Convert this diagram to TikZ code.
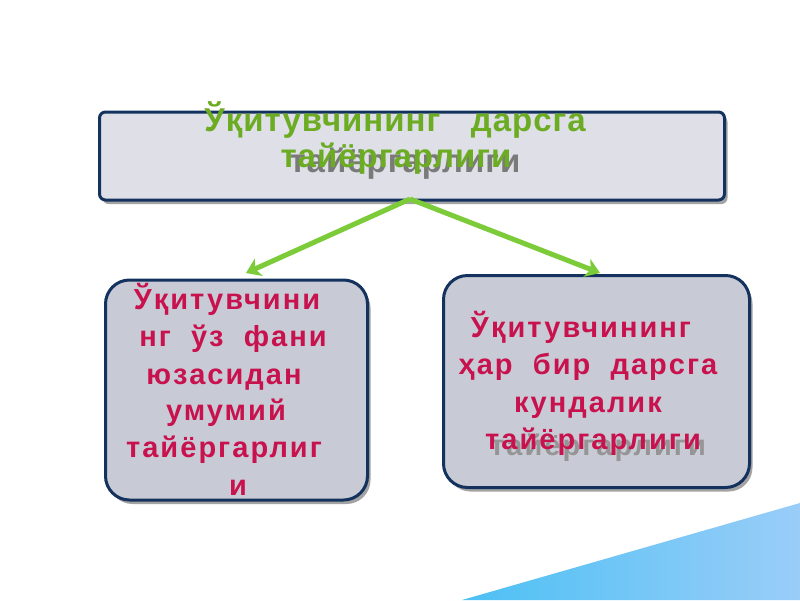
\documentclass[tikz,border=0pt]{standalone}
\usepackage{fontspec}
\setmainfont{Liberation Sans}
\usetikzlibrary{arrows.meta,shadows}
\definecolor{navy}{HTML}{14325E}
\definecolor{topfill}{HTML}{DEDFE7}
\definecolor{boxfill}{HTML}{C8CBD6}
\definecolor{ttlgreen}{HTML}{6CAC22}
\definecolor{arrgreen}{HTML}{7CCB38}
\definecolor{txtred}{HTML}{C8124E}
\definecolor{shgray}{HTML}{7A7A7A}
\definecolor{blueA}{HTML}{4CC0F4}
\definecolor{blueB}{HTML}{9ACDF8}
\newfontfamily\ttlfont[LetterSpace=3]{Liberation Sans}
\newfontfamily\bodyfont[LetterSpace=7]{Liberation Sans}
\tikzset{
  panel/.style={draw=navy, line width=3pt, fill=boxfill, rounded corners=24pt,
    drop shadow={shadow xshift=3pt, shadow yshift=-4pt, fill=black!45, opacity=0.8}},
  ttl/.style={font=\ttlfont\bfseries\fontsize{33}{36}\selectfont, text=ttlgreen, inner sep=0pt, anchor=base},
  ttlsh/.style={font=\ttlfont\bfseries\fontsize{33}{36}\selectfont, text=shgray, inner sep=0pt, anchor=base},
  body/.style={font=\bodyfont\bfseries\fontsize{29}{32}\selectfont, text=txtred, inner sep=0pt, anchor=base},
  bodysh/.style={font=\bodyfont\bfseries\fontsize{29}{32}\selectfont, text=shgray!80, inner sep=0pt, anchor=base},
  link/.style={draw=arrgreen, line width=5pt, line join=round,
    -{Stealth[length=14pt,width=19pt,inset=4pt]}}
}
\begin{document}
\begin{tikzpicture}[x=1pt,y=-1pt]
\useasboundingbox (0,0) rectangle (800,600);
\fill[white] (0,0) rectangle (800,600);
% blue corner
\shade[left color=blueA, right color=blueB] (462,600) -- (800,503) -- (800,600) -- cycle;
% boxes
\node[panel, rounded corners=6pt, fill=topfill, minimum width=625pt, minimum height=88pt] (top) at (412,156) {};
\node[panel, minimum width=262pt, minimum height=220pt] (lbox) at (236.5,390) {};
\node[panel, minimum width=306pt, minimum height=212pt] (rbox) at (596.5,381.5) {};
% arrows
\coordinate (apex) at (410,199);
\coordinate (lend) at (246,273);
\coordinate (rend) at (600,273);
\draw[link] (apex) -- (lend);
\draw[link] (apex) -- (rend);
% title
\node[ttl] (t1) at (395,131) {Ўқитувчининг\ \ \ дарсга};
\node[ttlsh] (t2s) at (405,172) {тайёргарлиги};
\node[ttl] (t2) at (396,167) {тайёргарлиги};
% left box text
\node[body] (l1) at (227,309) {Ўқитувчини};
\node[body] (l2) at (233,346) {нг\ \ ўз\ \ фани};
\node[body] (l3) at (224,384) {юзасидан};
\node[body] (l4) at (226,420) {умумий};
\node[body] (l5) at (224,457) {тайёргарлиг};
\node[body] (l6) at (238,495) {и};
% right box text
\node[body] (r1) at (581,337) {Ўқитувчининг};
\node[body] (r2) at (588,374) {ҳар\ \ бир\ \ дарсга};
\node[body] (r3) at (588,412) {кундалик};
\node[bodysh] (r4s) at (598,455) {тайёргарлиги};
\node[body] (r4) at (593,449) {тайёргарлиги};
\end{tikzpicture}
\end{document}
